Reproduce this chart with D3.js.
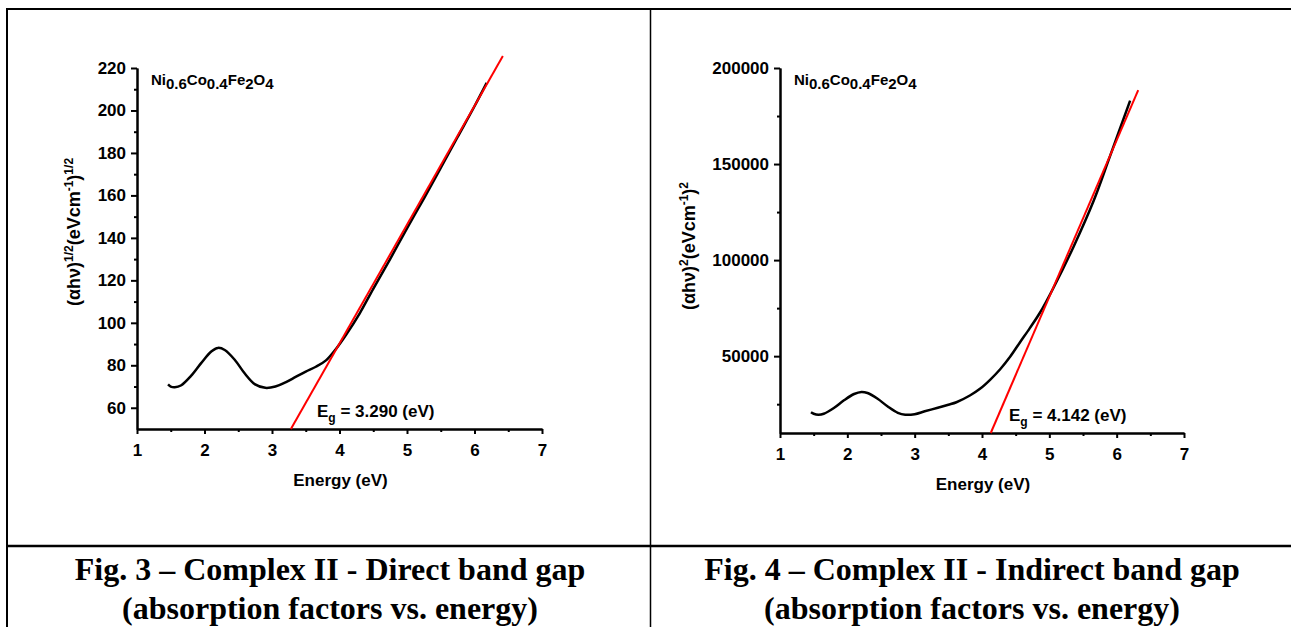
<!DOCTYPE html>
<html>
<head>
<meta charset="utf-8">
<script src="https://cdn.jsdelivr.net/npm/d3@7"></script>
<style>
  html, body { margin: 0; padding: 0; background: #fff; }
  svg { display: block; }
  .tick text { font-family: "Liberation Sans", Arial, sans-serif; font-weight: bold; }
</style>
</head>
<body>
<svg id="drawing_region"></svg>
<script>
// Fig. 3 - direct band gap, (ahv)^1/2
const direct_energy = [1.46, 1.5, 1.56, 1.65, 1.8, 1.95, 2.1, 2.2, 2.3, 2.45, 2.6, 2.75, 2.9, 3.05, 3.2, 3.35, 3.5, 3.65, 3.8, 3.95, 4.1, 4.3, 4.5, 4.75, 5.0, 5.25, 5.5, 5.75, 6.0, 6.18];
const direct_value  = [71, 70, 69.7, 70.5, 75, 81, 86.5, 88.2, 87.2, 82.5, 76, 71, 69.4, 70, 72, 74.5, 77, 79.3, 82.3, 87.8, 94.5, 104.5, 116, 130, 144.5, 158.5, 173, 187.5, 202, 213];
const direct_fit_energy = [3.28, 6.42];
const direct_fit_value  = [50, 225.6];

// Fig. 4 - indirect band gap, (ahv)^2
const indirect_energy = [1.46, 1.5, 1.57, 1.65, 1.8, 1.95, 2.1, 2.21, 2.3, 2.45, 2.6, 2.75, 2.86, 3.0, 3.15, 3.33, 3.5, 3.62, 3.82, 3.97, 4.12, 4.27, 4.42, 4.56, 4.71, 4.86, 5.06, 5.36, 5.66, 5.9, 6.2];
const indirect_value  = [20800, 20000, 19500, 20000, 23000, 27000, 30300, 31400, 30800, 27800, 23800, 20500, 19500, 19800, 21300, 23000, 24700, 26000, 29500, 33000, 37700, 43200, 49800, 57000, 64600, 72600, 85500, 107000, 131000, 154000, 183000];
const indirect_fit_energy = [4.13, 6.32];
const indirect_fit_value  = [10000, 188500];

const x_ticks = [1, 2, 3, 4, 5, 6, 7];
const x_minor = [1.5, 2.5, 3.5, 4.5, 5.5, 6.5];
const direct_y_ticks = [60, 80, 100, 120, 140, 160, 180, 200, 220];
const direct_y_minor = [70, 90, 110, 130, 150, 170, 190, 210];
const indirect_y_ticks = [50000, 100000, 150000, 200000];
const indirect_y_minor = [25000, 75000, 125000, 175000];

const captions = [
    ["Fig. 3 \u2013 Complex II - Direct band gap", "(absorption factors vs. energy)"],
    ["Fig. 4 \u2013 Complex II - Indirect band gap", "(absorption factors vs. energy)"]
];

const SANS = '"Liberation Sans", Arial, sans-serif';
const SERIF = '"Liberation Serif", "Times New Roman", serif';

const svg = d3.select('#drawing_region')
    .attr('width', 1291)
    .attr('height', 627);

// table frame
const frame = svg.append('g').attr('stroke', '#000').attr('stroke-width', 2);
frame.append('line').attr('x1', 7).attr('x2', 1300).attr('y1', 9).attr('y2', 9);
frame.append('line').attr('x1', 7).attr('x2', 7).attr('y1', 8).attr('y2', 627);
frame.append('line').attr('x1', 650.5).attr('x2', 650.5).attr('y1', 8).attr('y2', 627).attr('stroke-width', 1.5);
frame.append('line').attr('x1', 7).attr('x2', 1300).attr('y1', 546).attr('y2', 546).attr('stroke-width', 2.5);

captions.forEach( (c, i) => {
    const cx = i == 0 ? 330 : 972;
    svg.append('text')
        .attr('x', cx).attr('y', 580)
        .attr('text-anchor', 'middle')
        .attr('font-family', SERIF).attr('font-weight', 'bold').attr('font-size', '32px')
        .text(c[0]);
    svg.append('text')
        .attr('x', cx).attr('y', 619)
        .attr('text-anchor', 'middle')
        .attr('font-family', SERIF).attr('font-weight', 'bold').attr('font-size', '32px')
        .text(c[1]);
});

class BandGapPlot {
    constructor( config ) {
        this.config = config;
        this.init();
    }

    init() {
        let self = this;
        const c = self.config;

        self.xscale = d3.scaleLinear().domain([1, 7]).range([c.left, c.right]);
        self.yscale = d3.scaleLinear().domain(c.ydomain).range([c.bottom, c.top]);

        const g = svg.append('g');

        // minor ticks first
        g.append('g')
            .attr('transform', `translate(0, ${c.bottom})`)
            .call( d3.axisBottom(self.xscale).tickValues(x_minor).tickSize(3).tickFormat('').tickSizeOuter(0) );
        g.append('g')
            .attr('transform', `translate(${c.left}, 0)`)
            .call( d3.axisLeft(self.yscale).tickValues(c.yminor).tickSize(3).tickFormat('').tickSizeOuter(0) );

        g.append('g')
            .attr('transform', `translate(0, ${c.bottom})`)
            .call( d3.axisBottom(self.xscale).tickValues(x_ticks).tickFormat(d3.format('d'))
                .tickSize(5).tickPadding(10).tickSizeOuter(0) );
        g.append('g')
            .attr('transform', `translate(${c.left}, 0)`)
            .call( d3.axisLeft(self.yscale).tickValues(c.yticks).tickFormat(d3.format('d'))
                .tickSize(6).tickPadding(5).tickSizeOuter(0) );

        g.selectAll('.domain, .tick line')
            .attr('stroke', '#000')
            .attr('stroke-width', 2);
        g.selectAll('.tick text')
            .attr('fill', '#000')
            .attr('font-size', '17px');

        // curves
        const line = d3.line()
            .x( d => self.xscale(d[0]) )
            .y( d => self.yscale(d[1]) )
            .curve(d3.curveCatmullRom);

        g.append('path')
            .datum( c.energy.map( (e, i) => [e, c.value[i]] ) )
            .attr('fill', 'none')
            .attr('stroke', '#000')
            .attr('stroke-width', 2.5)
            .attr('d', line);

        g.append('path')
            .datum( c.fit_energy.map( (e, i) => [e, c.fit_value[i]] ) )
            .attr('fill', 'none')
            .attr('stroke', '#ff0000')
            .attr('stroke-width', 2)
            .attr('d', d3.line().x( d => self.xscale(d[0]) ).y( d => self.yscale(d[1]) ));

        // x label
        g.append('text')
            .attr('x', (c.left + c.right) / 2 + 1)
            .attr('y', c.bottom + 57)
            .attr('text-anchor', 'middle')
            .attr('font-family', SANS).attr('font-weight', 'bold').attr('font-size', '17px')
            .text('Energy (eV)');

        // y label
        const yl = g.append('text')
            .attr('transform', `translate(${c.ylabel_x}, ${c.ylabel_y}) rotate(-90)`)
            .attr('text-anchor', 'middle')
            .attr('font-family', SANS).attr('font-weight', 'bold').attr('font-size', '18px');
        yl.append('tspan').text('(\u03b1h\u03bd)');
        yl.append('tspan').attr('font-size', '12px').attr('dy', -7).text(c.power);
        yl.append('tspan').attr('dy', 7).text('(eVcm');
        yl.append('tspan').attr('font-size', '12px').attr('dy', -7).text('-1');
        yl.append('tspan').attr('dy', 7).text(')');
        yl.append('tspan').attr('font-size', '12px').attr('dy', -7).text(c.power);

        // compound
        const comp = g.append('text')
            .attr('x', c.left + 14)
            .attr('y', 85)
            .attr('font-family', SANS).attr('font-weight', 'bold').attr('font-size', '15px');
        [['Ni', '0.6'], ['Co', '0.4'], ['Fe', '2'], ['O', '4']].forEach( (p, i) => {
            comp.append('tspan').attr('dy', i == 0 ? 0 : -4).text(p[0]);
            comp.append('tspan').attr('dy', 4).text(p[1]);
        });

        // band gap value
        const eg = g.append('text')
            .attr('x', c.eg_x)
            .attr('y', c.bottom - 12)
            .attr('font-family', SANS).attr('font-weight', 'bold').attr('font-size', '17px');
        eg.append('tspan').text('E');
        eg.append('tspan').attr('font-size', '12px').attr('dy', 5).text('g');
        eg.append('tspan').attr('dy', -5).text(' = ' + c.eg + ' (eV)');
    }
}

new BandGapPlot({
    left: 137, right: 542, top: 68, bottom: 429,
    ydomain: [50, 220],
    yticks: direct_y_ticks, yminor: direct_y_minor,
    energy: direct_energy, value: direct_value,
    fit_energy: direct_fit_energy, fit_value: direct_fit_value,
    power: '1/2',
    ylabel_x: 80, ylabel_y: 232,
    eg_x: 317, eg: '3.290'
});

new BandGapPlot({
    left: 780, right: 1184, top: 68, bottom: 433,
    ydomain: [10000, 200000],
    yticks: indirect_y_ticks, yminor: indirect_y_minor,
    energy: indirect_energy, value: indirect_value,
    fit_energy: indirect_fit_energy, fit_value: indirect_fit_value,
    power: '2',
    ylabel_x: 695, ylabel_y: 246,
    eg_x: 1009, eg: '4.142'
});
</script>
</body>
</html>
